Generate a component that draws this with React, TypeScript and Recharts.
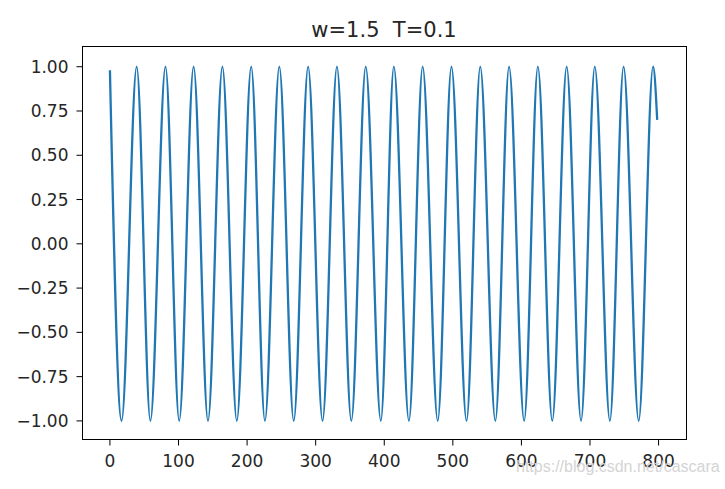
import React from 'react';
import { LineChart, Line, XAxis, YAxis } from 'recharts';

// values
const startPoint = { x: 0, y: 0.98 };
const endPoint = { x: 798, y: 0.7 };
const peakX = [39, 81, 122, 164, 206, 247, 289, 331, 373, 414, 456, 498, 540, 582, 624, 666, 707, 749, 792];
const troughX = [17, 59, 101, 143, 185, 226, 268, 310, 352, 395, 436, 478, 520, 562, 604, 645, 687, 729, 771];
const peakValue = 1.0;
const troughValue = -1.0;

const xTicks = [0, 100, 200, 300, 400, 500, 600, 700, 800];
const yTicks = [-1, -0.75, -0.5, -0.25, 0, 0.25, 0.5, 0.75, 1];

const data = [
  startPoint,
  ...peakX.map(x => ({ x, y: peakValue })),
  ...troughX.map(x => ({ x, y: troughValue })),
  endPoint,
].sort((a, b) => a.x - b.x);

const font = '"DejaVu Sans", sans-serif';
const tickStyle = { fontSize: 17, fill: '#262626', fontFamily: font };

export default function App() {
  return (
    <div style={{ position: 'absolute', left: 0, top: 0, width: 725, height: 489, background: '#fff' }}>
      <div
        style={{
          position: 'absolute', left: 82, width: 604, top: 18, textAlign: 'center',
          fontFamily: font, fontSize: 21, color: '#262626', lineHeight: '24px', whiteSpace: 'pre',
        }}
      >
        {'w=1.5  T=0.1'}
      </div>
      <LineChart width={725} height={489} data={data} margin={{ top: 46, right: 39, bottom: 0, left: 0 }}>
        <XAxis
          dataKey="x"
          type="number"
          domain={[-40, 840]}
          ticks={xTicks}
          height={49.5}
          axisLine={false}
          tickSize={6}
          tickMargin={9}
          tickLine={{ stroke: '#000' }}
          tick={tickStyle}
          allowDataOverflow
        />
        <YAxis
          type="number"
          domain={[-1.105, 1.117]}
          ticks={yTicks}
          width={82.5}
          axisLine={false}
          tickSize={6}
          tickMargin={8}
          tickLine={{ stroke: '#000' }}
          tick={tickStyle}
          tickFormatter={(v: number) => v.toFixed(2).replace('-', '\u2212')}
          allowDataOverflow
        />
        <Line type="monotone" dataKey="y" stroke="#1f77b4" strokeWidth={2.3} dot={false} isAnimationActive={false} />
      </LineChart>
      <div
        style={{
          position: 'absolute', left: 82, top: 46, width: 605, height: 394,
          boxSizing: 'border-box', border: '1px solid #000', pointerEvents: 'none',
        }}
      />
      {/* blog watermark, bottom right */}
      <div
        style={{
          position: 'absolute', left: 516, top: 457, fontFamily: '"Liberation Sans", Arial, sans-serif',
          fontSize: 16, lineHeight: '20px', color: '#d4d4d4', whiteSpace: 'nowrap',
        }}
      >
        https://blog.csdn.net/cascara
      </div>
    </div>
  );
}
